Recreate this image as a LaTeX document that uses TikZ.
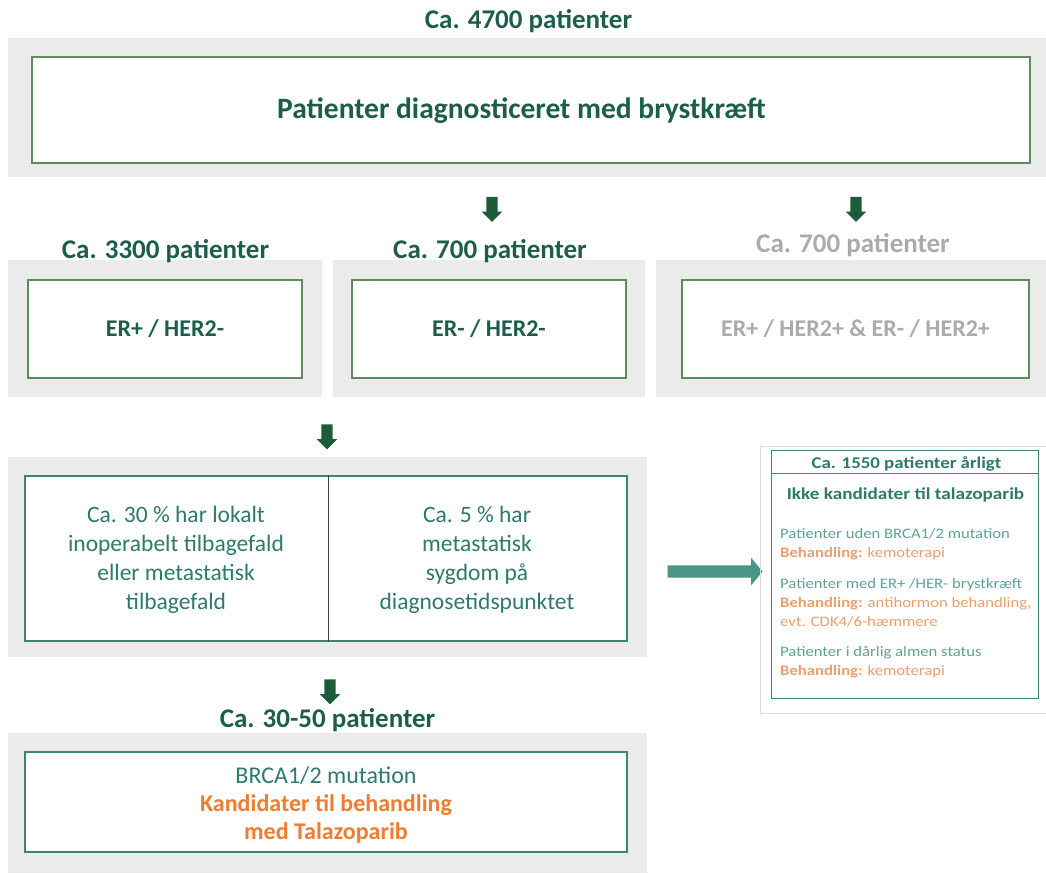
\documentclass[tikz,border=0pt]{standalone}
\usepackage{fontspec}
\setmainfont{Carlito}
\newfontfamily\widefont[FakeStretch=1.15]{Carlito}
\usepackage{xcolor}
\usetikzlibrary{shapes.arrows}
\definecolor{dkgreen}{HTML}{1D5E4B}
\definecolor{boxgreen}{HTML}{5E8C5E}
\definecolor{bandgray}{HTML}{EBEBEB}
\definecolor{tealline}{HTML}{3A8676}
\definecolor{tealtext}{HTML}{2E7A6C}
\definecolor{lttealtext}{HTML}{5FA396}
\definecolor{orangetext}{HTML}{EE7D31}
\definecolor{ltorange}{HTML}{E9A06E}
\definecolor{greytext}{HTML}{ABABAB}
\definecolor{arrowgreen}{HTML}{1E5B3A}
\definecolor{arrowteal}{HTML}{4A9585}
\tikzset{
    band/.style={fill=bandgray, draw=none, inner sep=0pt},
    greenbox/.style={fill=white, draw=boxgreen, line width=1.5pt, inner sep=0pt},
    tealbox/.style={fill=white, draw=tealline, line width=1.5pt, inner sep=0pt},
    count/.style={font=\bfseries\fontsize{27}{31}\selectfont, text=dkgreen, inner sep=0pt, anchor=base},
    erlabel/.style={font=\bfseries\fontsize{24}{28}\selectfont, text=dkgreen},
    downarrow/.style={single arrow, fill=arrowgreen, draw=none, shape border rotate=270,
        minimum height=25, minimum width=20, single arrow head extend=4.5, inner sep=5.5pt}}
\begin{document}
\begin{tikzpicture}[x=1pt, y=-1pt]
    \useasboundingbox (0,0) rectangle (1046,873);
    % top
    \node[band, minimum width=1038, minimum height=139] (b0) at (527,107.5) {};
    \node[count] (n0) at (528.5,28) {Ca. 4700 patienter};
    \node[greenbox, minimum width=998, minimum height=106] (diag) at (531,110) {};
    \node[anchor=base, inner sep=0pt, text=dkgreen, font=\bfseries\fontsize{29.5}{34}\selectfont]
        (diagtext) at (521.5,118) {Patienter diagnosticeret med brystkræft};
    \node[downarrow] (a1) at (492,206.5) {};
    \node[downarrow] (a2) at (856,206.5) {};
    % subtypes
    \node[band, minimum width=314, minimum height=137] (b1) at (165,328.5) {};
    \node[band, minimum width=312, minimum height=137] (b2) at (489,328.5) {};
    \node[band, minimum width=390, minimum height=137] (b3) at (851,328.5) {};
    \node[count] (n1) at (165.5,258) {Ca. 3300 patienter};
    \node[count] (n2) at (490,258) {Ca. 700 patienter};
    \node[count, text=greytext] (n3) at (853,252) {Ca. 700 patienter};
    \node[greenbox, erlabel, minimum width=274, minimum height=98] (erpos) at (165,329) {ER+ / HER2-};
    \node[greenbox, erlabel, minimum width=274, minimum height=98] (erneg) at (489,329) {ER- / HER2-};
    \node[greenbox, erlabel, minimum width=347, minimum height=98, text=greytext] (herpos) at (855.5,329)
        {ER+ / HER2+ \& ER- / HER2+};
    \node[downarrow] (a3) at (327,434) {};
    % metastatic
    \node[band, minimum width=639, minimum height=200] (b4) at (327.5,557) {};
    \node[tealbox, minimum width=602, minimum height=165] (meta) at (326,558.5) {};
    \draw[line width=1pt, black!75] ([xshift=2]meta.north) -- ([xshift=2]meta.south);
    \node[text=tealtext, align=center, font=\fontsize{23.5}{29}\selectfont] (relapse) at (176,560)
        {Ca. 30 \% har lokalt\\inoperabelt tilbagefald\\eller metastatisk\\tilbagefald};
    \node[text=tealtext, align=center, font=\fontsize{23.5}{29}\selectfont] (denovo) at (477,560)
        {Ca. 5 \% har\\metastatisk\\sygdom på\\diagnosetidspunktet};
    \node[single arrow, fill=arrowteal, draw=none, minimum height=95, minimum width=27,
        single arrow head extend=7.5, single arrow tip angle=100, inner sep=6pt] (a4) at (712.5,571.5) {};
    % not candidates
    \draw[black!15, line width=0.8pt] (760,446) rectangle (1046,713);
    \node[tealbox, line width=1pt, minimum width=267, minimum height=248, anchor=north west] (notcand) at (771,450) {};
    \draw[tealline, line width=1pt] (771,473) -- (1038,473);
    \node[text=tealtext, font=\widefont\bfseries\fontsize{16.4}{18}\selectfont] (n5) at (906.5,464) {Ca. 1550 patienter årligt};
    \node[text=tealtext, font=\widefont\bfseries\fontsize{16.7}{19}\selectfont] (ikke) at (905.5,495) {Ikke kandidater til talazoparib};
    \node[anchor=north west, align=left, inner sep=0pt, text=lttealtext,
        font=\widefont\fontsize{14.5}{19}\selectfont] (reasons) at (780,528)
        {Patienter uden BRCA1/2 mutation\\
        \textcolor{ltorange}{\textbf{Behandling:} kemoterapi}\\[12pt]
        Patienter med ER+ /HER- brystkræft\\
        \textcolor{ltorange}{\textbf{Behandling:} antihormon behandling,}\\
        \textcolor{ltorange}{evt. CDK4/6-hæmmere}\\[11pt]
        Patienter i dårlig almen status\\
        \textcolor{ltorange}{\textbf{Behandling:} kemoterapi}};
    % candidates
    \node[downarrow] (a5) at (330,689) {};
    \node[band, minimum width=639, minimum height=140] (b5) at (327.5,803) {};
    \node[count] (n4) at (327.5,727) {Ca. 30-50 patienter};
    \node[tealbox, minimum width=602, minimum height=100] (cand) at (326,802) {};
    \node[align=center, text=tealtext, font=\fontsize{24}{28}\selectfont] (candtext) at (326,805)
        {BRCA1/2 mutation\\\textcolor{orangetext}{\textbf{Kandidater til behandling}}\\\textcolor{orangetext}{\textbf{med Talazoparib}}};
\end{tikzpicture}
\end{document}
